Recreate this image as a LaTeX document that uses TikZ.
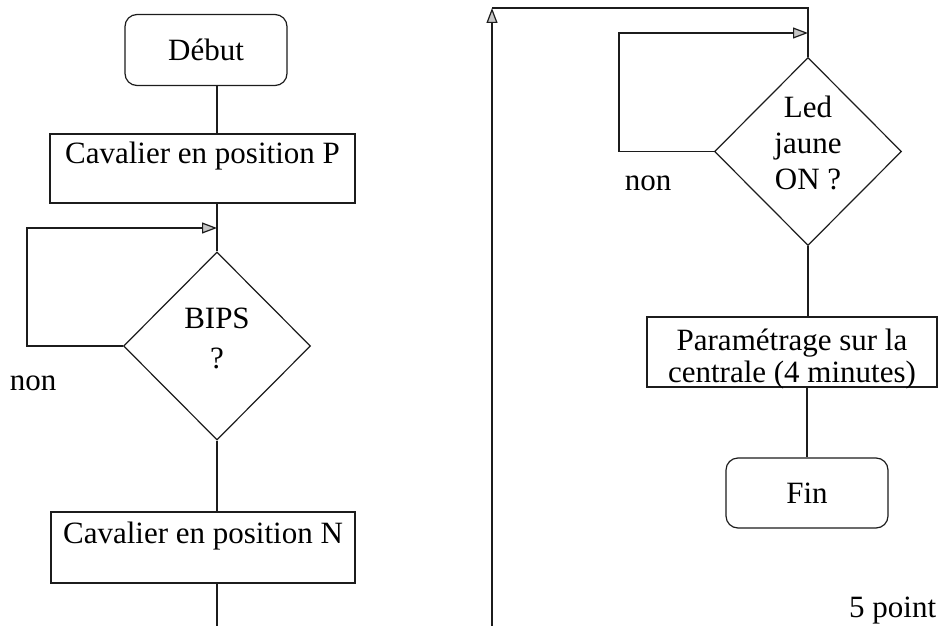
\documentclass[tikz,border=0pt]{standalone}
\usepackage{fontspec}
\setmainfont{Liberation Serif}
\usetikzlibrary{arrows.meta,positioning,shapes.geometric}
\definecolor{fink}{HTML}{1C1C1C}
\tikzset{
  termbox/.style = {draw=fink, line width=1.2pt, rectangle, rounded corners=12pt,
                    minimum width=162pt, minimum height=71pt, inner sep=0pt},
  procbox/.style = {draw=fink, line width=1.2pt, rectangle, inner sep=3pt, align=center},
  testbox/.style = {draw=fink, line width=1.2pt, diamond, aspect=1, inner sep=0pt,
                    minimum width=187pt, minimum height=188pt, align=center},
  wire/.style    = {draw=fink, line width=1.2pt},
  flow/.style    = {-{Triangle[length=15pt,width=11pt,fill=gray!45]}},
}

\begin{document}
\begin{tikzpicture}[x=1pt, y=-1pt, font=\fontsize{31}{36}\selectfont]
\useasboundingbox (0,0) rectangle (939,626);
% ---- left column ----
\node[termbox] (debut) at (206,50) {Début};
\node[procbox, minimum width=305pt, text height=26pt, text depth=37pt] (posP) at (202.5,168.5) {Cavalier en position P};
\node[testbox, text depth=16pt] (bips) at (217,346) {BIPS\\[4pt]?};
\node[procbox, minimum width=304pt, text height=28pt, text depth=37pt] (posN) at (203,547.5) {Cavalier en position N};
\node (nonA) at (33,383) {non};
\coordinate (bipsL) at (27,228);
\coordinate (outA) at (217,626);
\draw[wire] (debut.south -| bips.north) -- (posP.north -| bips.north);
\draw[wire] (posP.south -| bips.north) -- (bips.north);
\draw[wire,flow] (bips.west) -| (bipsL) -- (bips.north |- bipsL);
\draw[wire] (bips.south) -- (posN.north -| bips.south);
\draw[wire] (posN.south -| outA) -- (outA);
% ---- right column ----
\node[testbox, text depth=17pt] (led) at (808,151.5) {Led\\jaune\\ON ?};
\node[procbox, minimum width=290pt, minimum height=70pt, inner sep=0pt,
      text height=64pt, text depth=4pt] (param) at (792,352) {Paramétrage sur la\\[-4pt]centrale (4 minutes)};
\node[termbox, minimum height=70pt] (fin) at (807,493) {Fin};
\node (nonB) at (648,183) {non};
\node[anchor=south west, inner sep=0pt] (pts) at (849,624) {5 point};
\coordinate (retB) at (492,626);
\coordinate (retT) at (492,8);
\coordinate (ledL) at (619,33);
\draw[wire,flow] (retB) -- (retT);
\draw[wire] (retT) -| (led.north);
\draw[wire,flow] (led.west) -| (ledL) -- (led.north |- ledL);
\draw[wire] (led.south) -- (param.north -| led.south);
\draw[wire] (param.south -| fin.north) -- (fin.north);
\end{tikzpicture}
\end{document}
